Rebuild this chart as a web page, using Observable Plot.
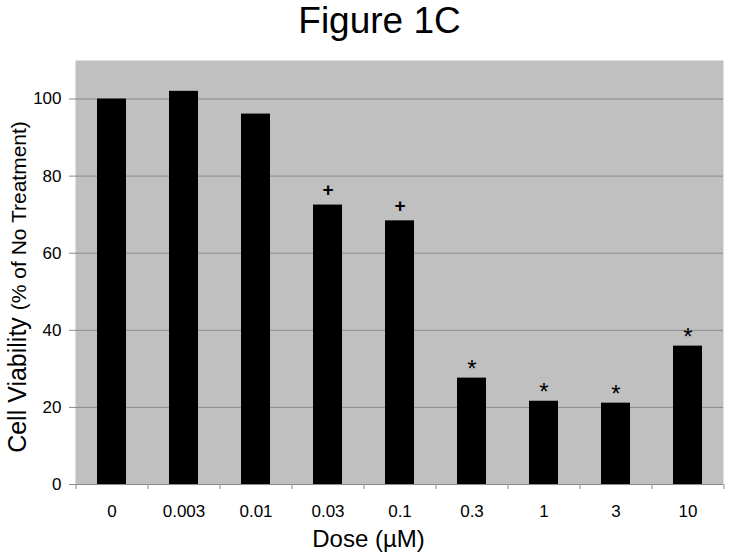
<!DOCTYPE html>
<html>
<head>
<meta charset="utf-8">
<script src="https://cdn.jsdelivr.net/npm/d3@7"></script>
<script src="https://cdn.jsdelivr.net/npm/@observablehq/plot@0.6"></script>
<style>
  html, body { margin: 0; padding: 0; background: #fff; }
</style>
</head>
<body>
<div id="chart"></div>
<script>
const doses = ["0", "0.003", "0.01", "0.03", "0.1", "0.3", "1", "3", "10"];
const viability = [100, 102, 96.1, 72.5, 68.4, 27.6, 21.6, 21.1, 35.9];
const marks = ["", "", "", "+", "+", "*", "*", "*", "*"];
const yTicks = [0, 20, 40, 60, 80, 100];
const gridTicks = [20, 40, 60, 80, 100];
const title = "Figure 1C";
const xLabel = "Dose (µM)";
const yLabelMain = "Cell Viability";
const yLabelSub = "(% of No Treatment)";

const data = doses.map((d, i) => ({dose: d, value: viability[i], mark: marks[i]}));
const plusData = data.filter(d => d.mark === "+");
const starData = data.filter(d => d.mark === "*");

const font = "'Liberation Sans', Arial, Helvetica, sans-serif";

const chart = Plot.plot({
  width: 729,
  height: 557,
  marginLeft: 75,
  marginRight: 6,
  marginTop: 60,
  marginBottom: 73,
  style: {fontFamily: font, background: "#fff", color: "black"},
  x: {type: "band", domain: doses, paddingInner: 0.6, paddingOuter: 0.3, axis: null},
  y: {domain: [0, 110], axis: null},
  marks: [
    Plot.frame({fill: "#c0c0c0", stroke: null}),
    Plot.gridY(gridTicks, {stroke: "#8a8a8a", strokeOpacity: 1, strokeWidth: 1}),
    Plot.barY(data, {x: "dose", y: "value", fill: "black"}),
    Plot.text(plusData, {x: "dose", y: "value", text: "mark", fontSize: 19, fontWeight: "bold", dy: -15, fill: "black"}),
    Plot.text(starData, {x: "dose", y: "value", text: "mark", fontSize: 24, dy: -9, fill: "black"}),
    Plot.ruleY([0], {stroke: "#8a8a8a", strokeWidth: 1}),
    Plot.axisY(yTicks, {tickSize: 6, tickPadding: 8, fontSize: 17, stroke: "#8a8a8a", fill: "black", label: null}),
    Plot.axisX({tickSize: 5, text: null, dx: -36, stroke: "#8a8a8a", label: null}),
    Plot.axisX([doses[doses.length - 1]], {tickSize: 5, text: null, dx: 36, stroke: "#8a8a8a", label: null}),
    Plot.axisX({tickSize: 0, tickPadding: 20, fontSize: 17, fill: "black", label: null}),
    Plot.text([title], {frameAnchor: "top", lineAnchor: "bottom", dy: -28, dx: -20, fontSize: 37, fill: "black"}),
    Plot.text([xLabel], {frameAnchor: "bottom", lineAnchor: "bottom", dy: 62, dx: -31, fontSize: 24, fill: "black"})
  ]
});

// Rotated y-axis label with two font sizes
const svg = d3.select(chart);
const yl = svg.append("text")
  .attr("transform", "translate(26,287) rotate(-90)")
  .attr("text-anchor", "middle")
  .attr("fill", "black")
  .attr("font-family", font);
yl.append("tspan").attr("font-size", 25).text(yLabelMain + " ");
yl.append("tspan").attr("font-size", 21).text(yLabelSub);

document.getElementById("chart").appendChild(chart);
</script>
</body>
</html>
